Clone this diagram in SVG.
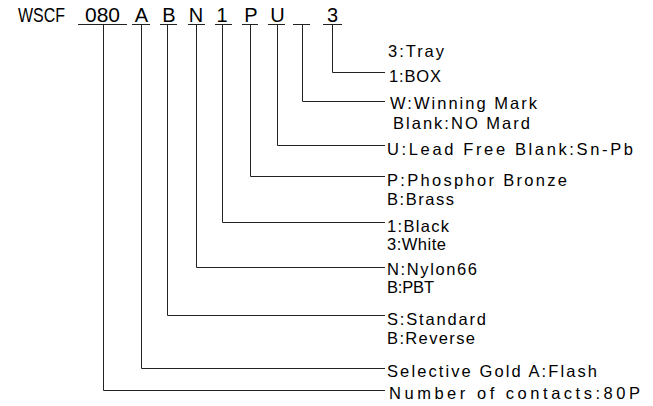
<svg xmlns="http://www.w3.org/2000/svg" width="653" height="406" viewBox="0 0 653 406">
<style>
text{font-family:"Liberation Sans",Arial,sans-serif;font-size:16.5px;fill:#000}
.h{font-size:20px}
.hd{font-size:20px;text-anchor:middle}
.ln{fill:none;stroke:#222;stroke-width:1}
</style>
<rect width="653" height="406" fill="#fff"/>
<g id="header">
<text class="h" x="18" y="21.5" textLength="47" lengthAdjust="spacingAndGlyphs">WSCF</text>
<text class="h" x="85" y="21.5" textLength="35" lengthAdjust="spacingAndGlyphs">080</text>
<text class="hd" x="141.5" y="21.5">A</text>
<text class="hd" x="169" y="21.5">B</text>
<text class="hd" x="196" y="21.5">N</text>
<text class="hd" x="222" y="21.5">1</text>
<text class="hd" x="251" y="21.5">P</text>
<text class="hd" x="277.5" y="21.5">U</text>
<text class="hd" x="332.5" y="21.5">3</text>
</g>
<g id="underlines" class="ln">
<path d="M78 24.5H127M132 24.5H150M160 24.5H177M188 24.5H205M215 24.5H232M242 24.5H258M268 24.5H285M293 24.5H310M323 24.5H342"/>
</g>
<g id="connectors" class="ln">
<path d="M103.5 24.5V390.5H385"/>
<path d="M141.5 24.5V368.5H385"/>
<path d="M167.5 24.5V315.5H385"/>
<path d="M196.5 24.5V267.5H385"/>
<path d="M222.5 24.5V222.5H385"/>
<path d="M250.5 24.5V176.5H385"/>
<path d="M277.5 24.5V145.5H385"/>
<path d="M302.5 24.5V101.5H385"/>
<path d="M332.5 24.5V72.5H385"/>
</g>
<g id="packing">
<text x="388" y="57" textLength="56" lengthAdjust="spacing">3:Tray</text>
<text x="389" y="82" textLength="52" lengthAdjust="spacing">1:BOX</text>
</g>
<g id="mark">
<text x="390" y="108.5" textLength="147" lengthAdjust="spacing">W:Winning Mark</text>
<text x="393" y="129" textLength="137" lengthAdjust="spacing">Blank:NO Mard</text>
</g>
<g id="plating">
<text x="387" y="155" textLength="246" lengthAdjust="spacing">U:Lead Free Blank:Sn-Pb</text>
</g>
<g id="material">
<text x="387" y="186" textLength="180" lengthAdjust="spacing">P:Phosphor Bronze</text>
<text x="387" y="204.5" textLength="67" lengthAdjust="spacing">B:Brass</text>
</g>
<g id="color">
<text x="387" y="232" textLength="62" lengthAdjust="spacing">1:Black</text>
<text x="387" y="250" textLength="59" lengthAdjust="spacing">3:White</text>
</g>
<g id="insulator">
<text x="387" y="275" textLength="90" lengthAdjust="spacing">N:Nylon66</text>
<text x="387" y="293" textLength="47" lengthAdjust="spacing">B:PBT</text>
</g>
<g id="type">
<text x="387" y="325" textLength="99" lengthAdjust="spacing">S:Standard</text>
<text x="387" y="343.5" textLength="88" lengthAdjust="spacing">B:Reverse</text>
</g>
<g id="gold">
<text x="387" y="377" textLength="210" lengthAdjust="spacing">Selective Gold A:Flash</text>
</g>
<g id="contacts">
<text x="389" y="398.5" textLength="251" lengthAdjust="spacing">Number of contacts:80P</text>
</g>
</svg>
